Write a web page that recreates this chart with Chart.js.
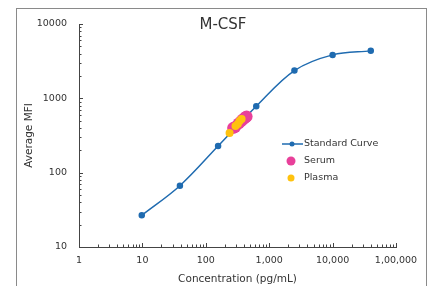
<!DOCTYPE html>
<html>
<head>
<meta charset="utf-8">
<script src="https://cdn.jsdelivr.net/npm/chart.js@4"></script>
<style>
  body{margin:0;background:#fff;}
  #frame{position:absolute;left:16px;top:8px;width:411px;height:290px;border:1px solid #8a8a8a;box-sizing:border-box;}
  #wrap{position:absolute;left:0;top:0;width:433px;height:286px;}
</style>
</head>
<body>
<div id="frame"></div>
<div id="wrap"><canvas id="myChart" width="433" height="286"></canvas></div>
<script>
// standard curve (4-fold dilutions)
const stdConc=[9.77,39.06,156.25,625,2500,10000,40000];
const stdMfi=[26.7,66.8,228,783,2360,3840,4350];

// samples
const serumConc=[270,290,330,360,385,405,425,440];
const serumMfi=[398,410,460,492,520,540,555,570];
const plasmaConc=[237,294,320,341,367];
const plasmaMfi=[342,425,452,497,527];

const xTickLabels=['1','10','100','1,000','10,000','1,00,000'];
const yTickLabels=['10','100','1000','10000'];

const blue='#1f6bb0', pink='#e8409a', yellow='#ffc20e';
const fontFam='"DejaVu Sans", Verdana, sans-serif';

function pts(xs,ys){return xs.map(function(x,i){return {x:x,y:ys[i]};});}

function logTicks(min,max){
    let t=[];
    for(let e=Math.log10(min);e<Math.log10(max);e++){
        for(let s=1;s<10;s++)t.push({value:s*Math.pow(10,e),major:s==1});
    }
    t.push({value:max,major:true});
    return t;
}

// ticks drawn inside the plot, plus title and legend
const extras={
    id:'extras',
    afterDraw:function(chart){
        const ctx=chart.ctx, xs=chart.scales.x, ys=chart.scales.y;
        const area=chart.chartArea;
        ctx.save();
        ctx.strokeStyle='#444';ctx.lineWidth=1;
        xs.ticks.forEach(function(t){
            let px=Math.round(xs.getPixelForValue(t.value))+0.5;
            let len=t.major?4:2.5;
            ctx.beginPath();ctx.moveTo(px,area.bottom);ctx.lineTo(px,area.bottom-len);ctx.stroke();
        });
        ys.ticks.forEach(function(t){
            let py=Math.round(ys.getPixelForValue(t.value))+0.5;
            let len=t.major?4:2.5;
            ctx.beginPath();ctx.moveTo(area.left,py);ctx.lineTo(area.left+len,py);ctx.stroke();
        });
        // title
        ctx.fillStyle='#333';ctx.font='15px '+fontFam;
        ctx.textAlign='center';ctx.textBaseline='middle';
        ctx.fillText('M-CSF',223,25);
        // legend
        ctx.font='9.5px '+fontFam;ctx.textAlign='left';
        ctx.strokeStyle=blue;ctx.lineWidth=1.5;
        ctx.beginPath();ctx.moveTo(282,144);ctx.lineTo(303,144);ctx.stroke();
        ctx.fillStyle=blue;ctx.beginPath();ctx.arc(292,144,2.5,0,Math.PI*2);ctx.fill();
        ctx.fillStyle=pink;ctx.beginPath();ctx.arc(291,161,4.5,0,Math.PI*2);ctx.fill();
        ctx.fillStyle=yellow;ctx.beginPath();ctx.arc(291,178,3.5,0,Math.PI*2);ctx.fill();
        ctx.fillStyle='#333';
        ctx.fillText('Standard Curve',304,144);
        ctx.fillText('Serum',304,161);
        ctx.fillText('Plasma',304,178);
        ctx.restore();
    }
};

const config={
    type:'scatter',
    data:{
        datasets:[{
            label:'Standard Curve',
            data:pts(stdConc,stdMfi),
            showLine:true,
            borderColor:blue,
            backgroundColor:blue,
            borderWidth:1.5,
            pointRadius:2.5,
            tension:0.35,
            order:3
        },{
            label:'Serum',
            data:pts(serumConc,serumMfi),
            backgroundColor:pink,
            borderWidth:0,
            pointRadius:6,
            order:2
        },{
            label:'Plasma',
            data:pts(plasmaConc,plasmaMfi),
            backgroundColor:yellow,
            borderWidth:0,
            pointRadius:4,
            order:1
        }]
    },
    options:{
        responsive:false,
        animation:false,
        layout:{padding:{left:16,right:37,top:24,bottom:0}},
        plugins:{legend:{display:false},tooltip:{enabled:false}},
        scales:{
            x:{
                type:'logarithmic',min:1,max:100000,
                afterBuildTicks:function(s){s.ticks=logTicks(1,100000);},
                afterFit:function(s){s.height=39;},
                grid:{display:false,drawTicks:false},
                border:{color:'#444',width:1},
                ticks:{
                    autoSkip:false,maxRotation:0,padding:8,color:'#333',
                    font:{family:fontFam,size:9.5},
                    callback:function(v){
                        let e=Math.log10(v);
                        return Math.abs(e-Math.round(e))<1e-9?xTickLabels[Math.round(e)]:'';
                    }
                },
                title:{display:true,text:'Concentration (pg/mL)',color:'#333',
                    font:{family:fontFam,size:10.5},padding:{top:3,bottom:0}}
            },
            y:{
                type:'logarithmic',min:10,max:10000,
                afterBuildTicks:function(s){s.ticks=logTicks(10,10000);},
                afterFit:function(s){s.width=63;},
                grid:{display:false,drawTicks:false},
                border:{color:'#444',width:1},
                ticks:{
                    autoSkip:false,padding:12,color:'#333',
                    font:{family:fontFam,size:9.5},
                    callback:function(v){
                        let e=Math.log10(v);
                        return Math.abs(e-Math.round(e))<1e-9?yTickLabels[Math.round(e)-1]:'';
                    }
                },
                title:{display:true,text:'Average MFI',color:'#333',
                    font:{family:fontFam,size:10.5},padding:{top:7,bottom:0}}
            }
        }
    },
    plugins:[extras]
};

const myChart=new Chart(document.getElementById('myChart'),config);
</script>
</body>
</html>
